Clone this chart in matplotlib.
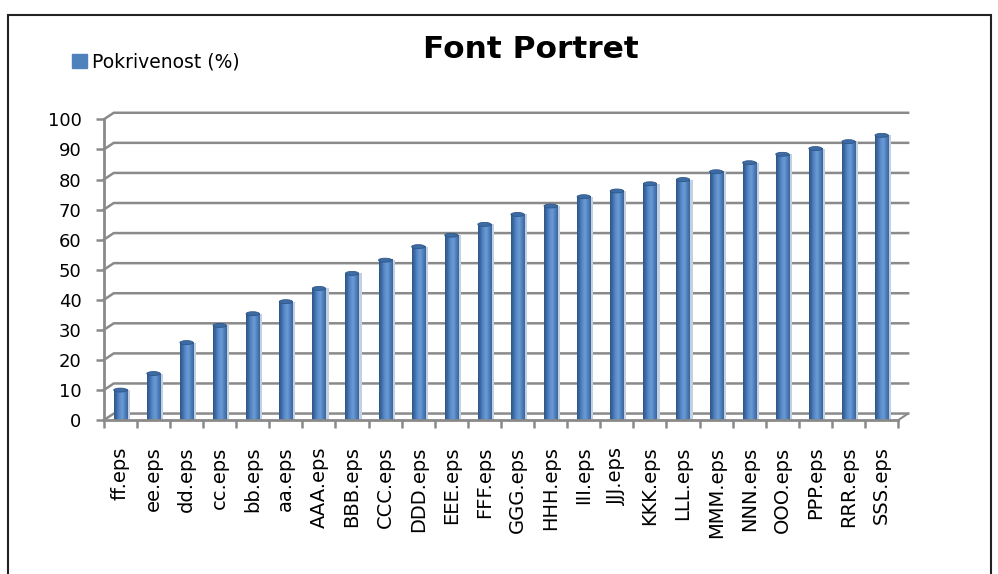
import numpy as np
import matplotlib
matplotlib.use("Agg")
import matplotlib.pyplot as plt
from matplotlib.patches import Ellipse, Rectangle, Patch
from matplotlib.colors import LinearSegmentedColormap

plt.rcParams['font.family'] = ['DejaVu Sans']

# data
fonts = ['ff.eps', 'ee.eps', 'dd.eps', 'cc.eps', 'bb.eps', 'aa.eps',
         'AAA.eps', 'BBB.eps', 'CCC.eps', 'DDD.eps', 'EEE.eps', 'FFF.eps',
         'GGG.eps', 'HHH.eps', 'III.eps', 'JJJ.eps', 'KKK.eps', 'LLL.eps',
         'MMM.eps', 'NNN.eps', 'OOO.eps', 'PPP.eps', 'RRR.eps', 'SSS.eps']
coverage = [10, 15.5, 25.8, 31.5, 35.4, 39.4, 43.8, 48.8, 53.2, 57.7, 61.5, 65.1,
            68.4, 71.2, 74.3, 76.2, 78.6, 80, 82.6, 85.6, 88.4, 90.3, 92.6, 94.7]
yticks = list(range(0, 101, 10))
series_name = 'Pokrivenost (%)'
title = 'Font Portret'

blue = '#4F81BD'
grid_col = '#8A8A8A'

fig = plt.figure(figsize=(9.98, 5.74), dpi=100)
ax = fig.add_axes([0.104, 0.268, 0.796, 0.524])

n = len(fonts)
x = np.arange(n)

# fake 3d back wall offset (data units)
dx, dy = 0.30, 2.2
for v in yticks:
    ax.plot([-0.5, -0.5 + dx, n - 0.5 + dx], [v, v + dy, v + dy],
            color=grid_col, lw=1.8, clip_on=False, zorder=1)
ax.plot([n - 0.5, n - 0.5 + dx], [0, dy], color=grid_col, lw=1.5,
        clip_on=False, zorder=1)

# cylinder shading
cyl = LinearSegmentedColormap.from_list(
    'cyl', ['#2E5687', '#3F6DA6', '#5A8CCB', '#6C9BD6', '#4F81BD', '#3A659C'])
grad = np.linspace(0, 1, 64).reshape(1, -1)
w = 0.40
bars = ax.bar(x + 0.09, coverage, width=w, color='#C3D0E2', zorder=2)
for xi, v in zip(x, coverage):
    ax.imshow(grad, cmap=cyl, aspect='auto', interpolation='bilinear',
              extent=(xi - w / 2, xi + w / 2, 0, v), zorder=3)
    ax.add_patch(Ellipse((xi, v), w, 1.3, facecolor='#3D6CA4',
                         edgecolor='#2E5687', lw=0.6, zorder=4))
ax.set_xlim(-0.5, n - 0.5)
ax.set_ylim(0, 100)

# axes styling
for s in ['top', 'right']:
    ax.spines[s].set_visible(False)
for s in ['left', 'bottom']:
    ax.spines[s].set_color(grid_col)
    ax.spines[s].set_linewidth(2)
    ax.spines[s].set_zorder(5)

ax.set_yticks(yticks)
ax.tick_params(axis='y', direction='out', length=6, width=1.8,
               color=grid_col, labelsize=13, pad=10)
ax.set_xticks(x)
ax.set_xticklabels(fonts, rotation=90, fontsize=14)
ax.set_xticks(np.arange(n + 1) - 0.5, minor=True)
ax.tick_params(axis='x', which='major', length=0, pad=19)
ax.tick_params(axis='x', which='minor', direction='out', length=6,
               width=1.8, color=grid_col)

fig.text(0.532, 1 - 49 / 574, title, fontsize=22.5, fontweight='bold',
         ha='center', va='center')
fig.legend(handles=[Patch(color=blue, label=series_name)],
           loc='center left', bbox_to_anchor=(0.055, 1 - 62 / 574),
           frameon=False, fontsize=13.5, handlelength=0.8,
           handleheight=0.8, handletextpad=0.3)

fig.patches.append(Rectangle((8 / 998, -0.05), 983 / 998, 1.05 - 15 / 574,
                             transform=fig.transFigure, fill=False,
                             edgecolor='#222222', lw=1.5))

fig.savefig('out.png', dpi=100)
